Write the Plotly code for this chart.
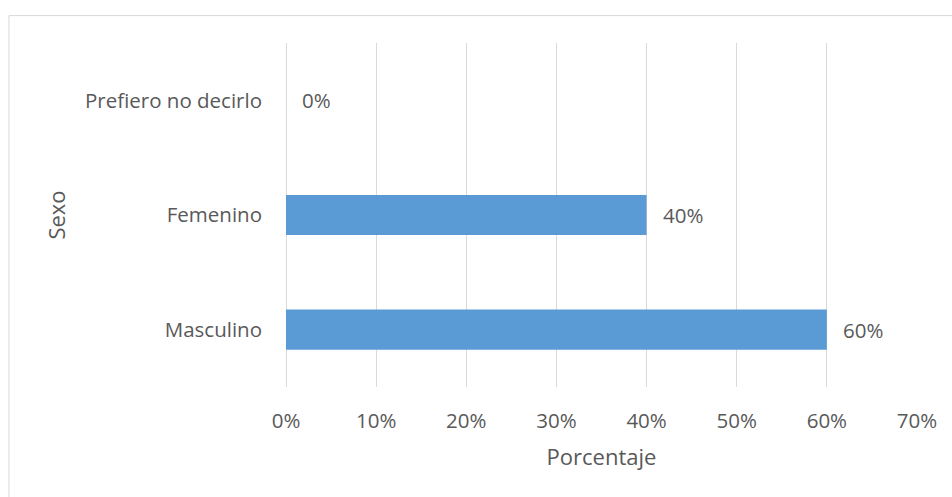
import plotly.graph_objects as go

categories = ["Masculino", "Femenino", "Prefiero no decirlo"]
values = [60, 40, 0]
labels = ["60%", "40%", "0%"]
tick_vals = [0, 10, 20, 30, 40, 50, 60, 70]
tick_text = ["0%", "10%", "20%", "30%", "40%", "50%", "60%", "70%"]

W, H = 952, 497
L, R, T, B = 285.5, 34.5, 42.5, 109.5
pw, ph = W - L - R, H - T - B

font = "Open Sans"
txt = "#595959"
fs = 20.5

fig = go.Figure(go.Bar(
    y=categories, x=values, orientation="h",
    marker=dict(color="#5B9BD5", line=dict(width=0)),
    hoverinfo="skip",
))

for c, v, lab in zip(categories, values, labels):
    fig.add_annotation(x=v, y=c, text=lab, showarrow=False, xanchor="left",
                       xshift=14, font=dict(family=font, size=fs, color=txt))

# outer chart-area border
fig.add_shape(type="rect", xref="paper", yref="paper",
              x0=(8 - L) / pw, x1=(W + 20 - L) / pw,
              y0=-(B + 20) / ph, y1=(H - 15 - B) / ph,
              line=dict(color="#D9D9D9", width=1), fillcolor="rgba(0,0,0,0)")

fig.update_layout(
    width=W, height=H,
    margin=dict(l=L, r=R, t=T, b=B),
    paper_bgcolor="white", plot_bgcolor="white",
    bargap=0.65, showlegend=False,
    font=dict(family=font, size=fs, color=txt),
    xaxis=dict(range=[0, 70], tickvals=tick_vals, ticktext=tick_text,
               showgrid=True, gridcolor="#D9D9D9", gridwidth=1,
               zeroline=True, zerolinecolor="#D9D9D9", zerolinewidth=1,
               showline=False, ticks="",
               ticklabelstandoff=19,
               tickfont=dict(size=fs, color=txt),
               title=dict(text="Porcentaje", font=dict(size=22, color=txt), standoff=17)),
    yaxis=dict(showgrid=False, zeroline=False, showline=False, ticks="",
               ticklabelstandoff=23,
               tickfont=dict(size=fs, color=txt),
               title=dict(text="Sexo", font=dict(size=22, color=txt), standoff=13)),
)

fig.write_html("out.html")
